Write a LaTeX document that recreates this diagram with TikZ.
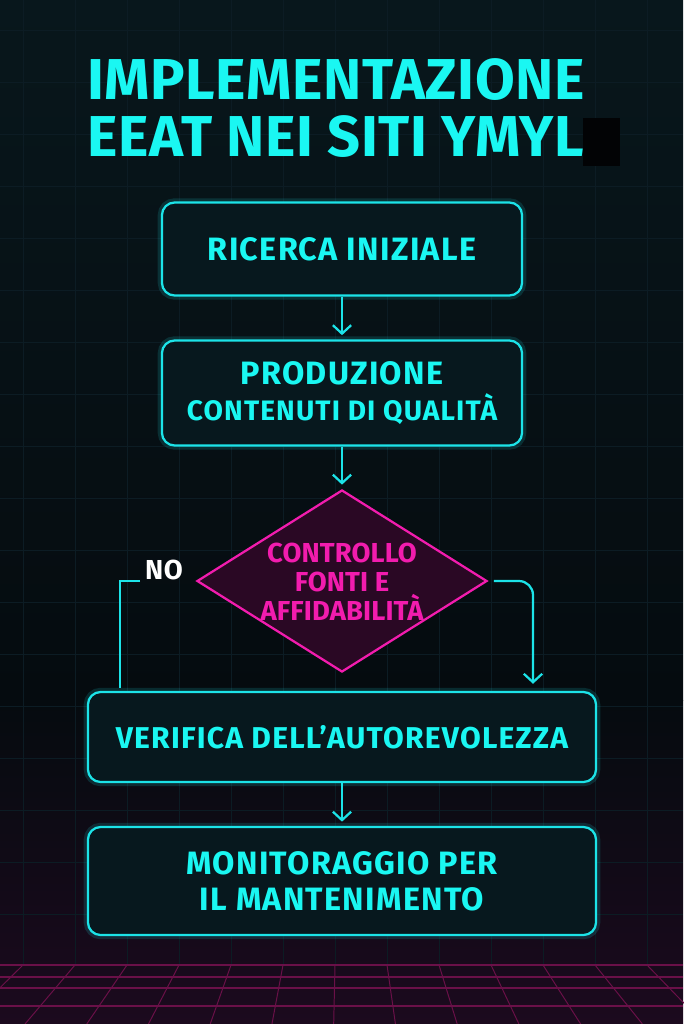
\documentclass[tikz,border=0pt]{standalone}
\usepackage{fontspec}
\setmainfont{Fira Sans}
\usetikzlibrary{shapes.geometric,arrows.meta,calc}

\definecolor{bgtop}{HTML}{08171C}
\definecolor{bgmid}{HTML}{050B0F}
\definecolor{bgbot}{HTML}{1C0A1E}
\definecolor{neon}{HTML}{1CE3E8}
\definecolor{neontext}{HTML}{1AF7F2}
\definecolor{pink}{HTML}{F21CAE}
\definecolor{pinkfill}{HTML}{2A0824}
\definecolor{boxfill}{HTML}{07181E}
\definecolor{gridblue}{HTML}{0C1C24}
\definecolor{gridpink}{HTML}{6A1048}

\tikzset{
  stepbox/.style={draw=neon, line width=1.6pt, rounded corners=9pt, fill=boxfill,
    text=neontext, align=center, inner sep=0pt,
    font=\bfseries\fontsize{23}{25.5}\selectfont\addfontfeature{LetterSpace=4},
    preaction={draw=neon, line width=6pt, opacity=0.15}},
  checkbox/.style={diamond, draw=pink, line width=1.6pt, fill=pinkfill,
    minimum width=7.25cm, minimum height=4.55cm, inner sep=0pt},
  checktext/.style={text=pink, align=center,
    font=\bfseries\fontsize{19.5}{20.5}\selectfont\addfontfeature{LetterSpace=0.5}},
  flow/.style={draw=neon, line width=1.6pt},
  flowarrow/.style={flow, -{Straight Barb[length=6pt,width=13pt]}, shorten >=3pt}
}

\begin{document}
\begin{tikzpicture}[x=0.025cm,y=-0.025cm]
  % background
  \shade[top color=bgtop, bottom color=bgmid] (0,0) rectangle (683,700);
  \shade[top color=bgmid, bottom color=bgbot] (0,700) rectangle (683,1024);
  \useasboundingbox (0,0) rectangle (683,1024);
  \foreach \x in {23,75,...,683} \draw[gridblue, line width=0.6pt] (\x,0) -- (\x,965);
  \foreach \y in {30,82,...,965} \draw[gridblue, line width=0.6pt] (0,\y) -- (683,\y);
  % floor grid
  \coordinate (vp) at (342,650);
  \foreach \y in {965,977,988,1006} \draw[gridpink, line width=0.8pt] (0,\y) -- (683,\y);
  \foreach \x in {-237,-185,...,920}
    \draw[gridpink, line width=0.7pt] (\x,965) -- ($(vp)!1.187!(\x,965)$);

  % title
  \node[text=neontext, align=center,
    font=\bfseries\fontsize{41}{40.5}\selectfont\addfontfeature{LetterSpace=1}] (title) at (336,108)
    {IMPLEMENTAZIONE\\EEAT NEI SITI YMYL};
  \fill[black!70!bgmid] (583,118) rectangle (620,166);

  % steps
  \node[stepbox, minimum width=9cm, minimum height=2.325cm] (res) at (342,249) {RICERCA INIZIALE};
  \node[stepbox, minimum width=9cm, minimum height=2.625cm] (prod) at (342,393)
    {PRODUZIONE\\{\fontsize{20}{25.5}\selectfont CONTENUTI DI QUALITÀ}};
  \node[checkbox] (chk) at (342,581) {};
  \node[checktext] (chkt) at (342,582) {CONTROLLO\\FONTI E\\AFFIDABILITÀ};
  \node[stepbox, minimum width=12.7cm, minimum height=2.25cm,
    font=\bfseries\fontsize{21.4}{25.5}\selectfont\addfontfeature{LetterSpace=4}] (ver) at (342,737)
    {VERIFICA DELL’AUTOREVOLEZZA};
  \node[stepbox, minimum width=12.7cm, minimum height=2.7cm] (mon) at (342,881) {MONITORAGGIO PER\\IL MANTENIMENTO};
  \node[text=white, font=\bfseries\fontsize{19.5}{20}\selectfont\addfontfeature{LetterSpace=2}] (no) at (164,570) {NO};

  % connectors
  \draw[flowarrow] (res) -- (prod);
  \draw[flowarrow] (prod) -- (chk);
  \coordinate (nodrop) at (120,688);
  \draw[flow] (no.west |- chk.west) -- (nodrop |- chk.west) -- (nodrop);
  \coordinate (yesend) at (533,688);
  \draw[flowarrow, rounded corners=10pt] ([xshift=4pt]chk.east) -| (yesend);
  \draw[flowarrow] (ver) -- (mon);
\end{tikzpicture}
\end{document}
